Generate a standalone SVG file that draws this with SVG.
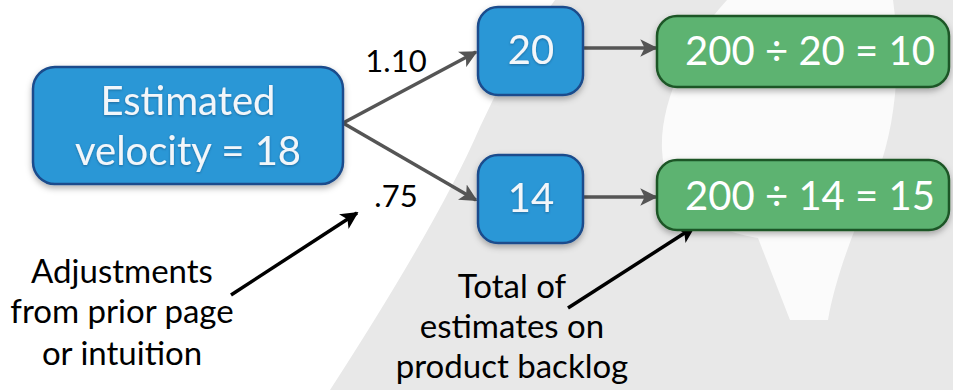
<svg xmlns="http://www.w3.org/2000/svg" width="953" height="390" viewBox="0 0 953 390">
  <defs>
    <filter id="shadow" x="-10%" y="-10%" width="120%" height="130%">
      <feDropShadow dx="0" dy="3" stdDeviation="3" flood-color="#000" flood-opacity="0.3"/>
    </filter>
    <filter id="tshadow" x="-10%" y="-20%" width="120%" height="140%">
      <feDropShadow dx="0" dy="1" stdDeviation="1" flood-color="#0a3a66" flood-opacity="0.5"/>
    </filter>
    <marker id="ag" viewBox="0 0 10 10" refX="9" refY="5" markerWidth="5" markerHeight="5" markerUnits="strokeWidth" orient="auto">
      <path d="M0,0 L10,5 L0,10 L2.5,5 Z" fill="#555"/>
    </marker>
    <marker id="ab" viewBox="0 0 10 10" refX="9" refY="5" markerWidth="5" markerHeight="5" markerUnits="strokeWidth" orient="auto">
      <path d="M0,0 L10,5 L0,10 L2.5,5 Z" fill="#000"/>
    </marker>
  </defs>
  <style>
    text { font-family: Lato, "Open Sans", "Liberation Sans", sans-serif; }
    .blue { fill: #2a97d6; stroke: #1a4c8c; stroke-width: 2.5; filter: url(#shadow); }
    .green { fill: #5db371; stroke: #1f5628; stroke-width: 2.5; filter: url(#shadow); }
    .in { fill: #f2f6fa; font-size: 40px; text-anchor: middle; filter: url(#tshadow); }
    .ing { fill: #ffffff; font-size: 40px; text-anchor: middle; }
    .lbl { fill: #000; font-size: 31px; text-anchor: middle; }
    .note { fill: #000; font-size: 33px; text-anchor: middle; }
    .conn { stroke: #555; stroke-width: 3.5; fill: none; marker-end: url(#ag); }
    .call { stroke: #000; stroke-width: 3.5; fill: none; marker-end: url(#ab); }
  </style>
  <rect width="953" height="390" fill="#ffffff"/>
  <g id="background">
    <path d="M555,0 L953,0 L953,390 L330,390 Q440,220 480,127 Q510,60 555,0 Z" fill="#e8e8e8"/>
    <path d="M727,0 C690,40 660,100 662,150 C664,200 700,228 758,238 L790,320 L828,320 C838,262 866,205 882,160 C898,110 900,50 893,0 Z" fill="#fbfbfb"/>
  </g>
  <g id="connectors">
    <path class="conn" d="M343,123 L476,52"/>
    <path class="conn" d="M343,123 L476,200"/>
    <path class="conn" d="M583,48 L656,48"/>
    <path class="conn" d="M583,197 L656,197"/>
    <path class="call" d="M231,295 L357,213"/>
    <path class="call" d="M568,308 L694,227"/>
  </g>
  <g id="node-estimated">
    <rect class="blue" x="33" y="67" width="310" height="117" rx="22"/>
    <text class="in" x="188" y="115">Estimated</text>
    <text class="in" x="188" y="165">velocity = 18</text>
  </g>
  <g id="node-20">
    <rect class="blue" x="478" y="7" width="105" height="88" rx="20"/>
    <text class="in" x="531" y="64">20</text>
  </g>
  <g id="node-14">
    <rect class="blue" x="478" y="155" width="105" height="88" rx="20"/>
    <text class="in" x="531" y="212">14</text>
  </g>
  <g id="node-result-10">
    <rect class="green" x="657" y="16" width="292" height="71" rx="20"/>
    <text class="ing" x="810" y="65">200 ÷ 20 = 10</text>
  </g>
  <g id="node-result-15">
    <rect class="green" x="657" y="160" width="292" height="70" rx="20"/>
    <text class="ing" x="810" y="210">200 ÷ 14 = 15</text>
  </g>
  <g id="labels">
    <text class="lbl" x="396" y="72">1.10</text>
    <text class="lbl" x="396" y="207">.75</text>
  </g>
  <g id="note-adjustments">
    <text class="note" x="122" y="283">Adjustments</text>
    <text class="note" x="122" y="323">from prior page</text>
    <text class="note" x="122" y="365">or intuition</text>
  </g>
  <g id="note-total">
    <text class="note" x="512" y="298">Total of</text>
    <text class="note" x="512" y="338">estimates on</text>
    <text class="note" x="512" y="378">product backlog</text>
  </g>
</svg>
